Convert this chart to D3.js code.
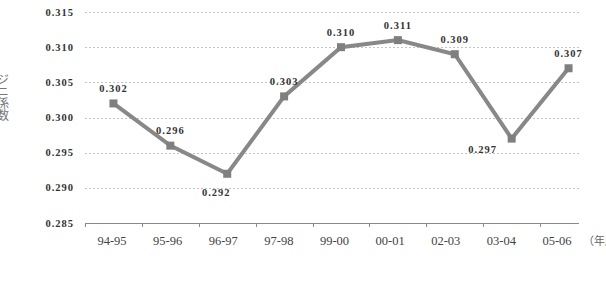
<!DOCTYPE html>
<html><head><meta charset="utf-8">
<script src="https://cdn.jsdelivr.net/npm/d3@7"></script>
<style>
html,body{margin:0;padding:0;background:#fff;overflow:hidden;}
svg{display:block;}
</style></head>
<body>
<svg id="c" width="606" height="292"></svg>
<script>
const categories = ["94-95","95-96","96-97","97-98","99-00","00-01","02-03","03-04","05-06"];
const gini = [0.302,0.296,0.292,0.303,0.310,0.311,0.309,0.297,0.307];
const yTicks = [0.285,0.290,0.295,0.300,0.305,0.310,0.315];
const yTitle = "ジニ係数";
const xUnit = "（年度）";

const svg = d3.select("#c");
const x = d3.scaleBand().domain(categories).range([85, 597]).padding(0);
const xLab = d3.scalePoint().domain(categories).range([112, 557]);
const y = d3.scaleLinear().domain([0.285, 0.315]).range([223, 12]);
const xEnd = 579;
const serif = "Liberation Serif, Times New Roman, serif";

// gridlines
svg.append("g").selectAll("line").data(yTicks.slice(1)).join("line")
  .attr("x1", 85).attr("x2", xEnd)
  .attr("y1", d => Math.round(y(d)) + 0.5).attr("y2", d => Math.round(y(d)) + 0.5)
  .attr("stroke", "#c4c4c4").attr("stroke-width", 1).attr("stroke-dasharray", "2,2");

// y tick labels
svg.append("g").selectAll("text").data(yTicks).join("text")
  .attr("x", 74).attr("y", d => y(d) + 3.5)
  .attr("text-anchor", "end")
  .style("font-family", serif).attr("font-weight", "bold")
  .attr("font-size", 10.5).attr("letter-spacing", 1).attr("fill", "#333")
  .text(d => d.toFixed(3));

// x axis line and ticks
const ax = svg.append("g");
ax.append("line").attr("x1", 85).attr("x2", xEnd).attr("y1", 223.5).attr("y2", 223.5)
  .attr("stroke", "#8a8a8a").attr("stroke-width", 1);
ax.selectAll("line.t").data(categories).join("line").attr("class", "t")
  .attr("x1", d => Math.round(x(d)) + 0.5).attr("x2", d => Math.round(x(d)) + 0.5)
  .attr("y1", 223).attr("y2", 227).attr("stroke", "#8a8a8a");
ax.selectAll("text").data(categories).join("text")
  .attr("x", d => xLab(d)).attr("y", 245)
  .attr("text-anchor", "middle")
  .style("font-family", serif).attr("font-size", 12.5)
  .attr("fill", "#444").text(d => d);

svg.append("text").attr("x", 583).attr("y", 245)
  .style("font-family", "Noto Sans CJK JP, sans-serif").attr("font-size", 11)
  .attr("fill", "#666").text(xUnit);

// y title vertical
svg.append("text").attr("x", 3).attr("y", 73)
  .style("font-family", "Noto Sans CJK JP, sans-serif").attr("font-size", 12)
  .attr("fill", "#777").style("writing-mode", "vertical-rl")
  .text(yTitle);

// line
const pts = categories.map((c, i) => [x(c) + x.bandwidth() / 2, y(gini[i])]);
svg.append("path").datum(pts)
  .attr("d", d3.line())
  .attr("fill", "none").attr("stroke", "#888").attr("stroke-width", 4)
  .attr("stroke-linejoin", "miter");

svg.append("g").selectAll("rect").data(pts).join("rect")
  .attr("x", d => d[0] - 4).attr("y", d => d[1] - 4)
  .attr("width", 8).attr("height", 8).attr("fill", "#7f7f7f");

// data labels: above by default, below-left at local minima
function labelOffset(i) {
  const prev = gini[i - 1], next = gini[i + 1];
  const isMin = i > 0 && next !== undefined && gini[i] < prev && gini[i] < next;
  if (!isMin) return [0, -11.5];
  if (prev - gini[i] > 0.008) return [-29, 14];
  return [-11, 22];
}
svg.append("g").selectAll("text").data(pts).join("text")
  .attr("x", (d, i) => d[0] + labelOffset(i)[0])
  .attr("y", (d, i) => d[1] + labelOffset(i)[1])
  .attr("text-anchor", "middle")
  .style("font-family", serif).attr("font-weight", "bold")
  .attr("font-size", 10.5).attr("letter-spacing", 1).attr("fill", "#333")
  .text((d, i) => gini[i].toFixed(3));
</script>
</body></html>
